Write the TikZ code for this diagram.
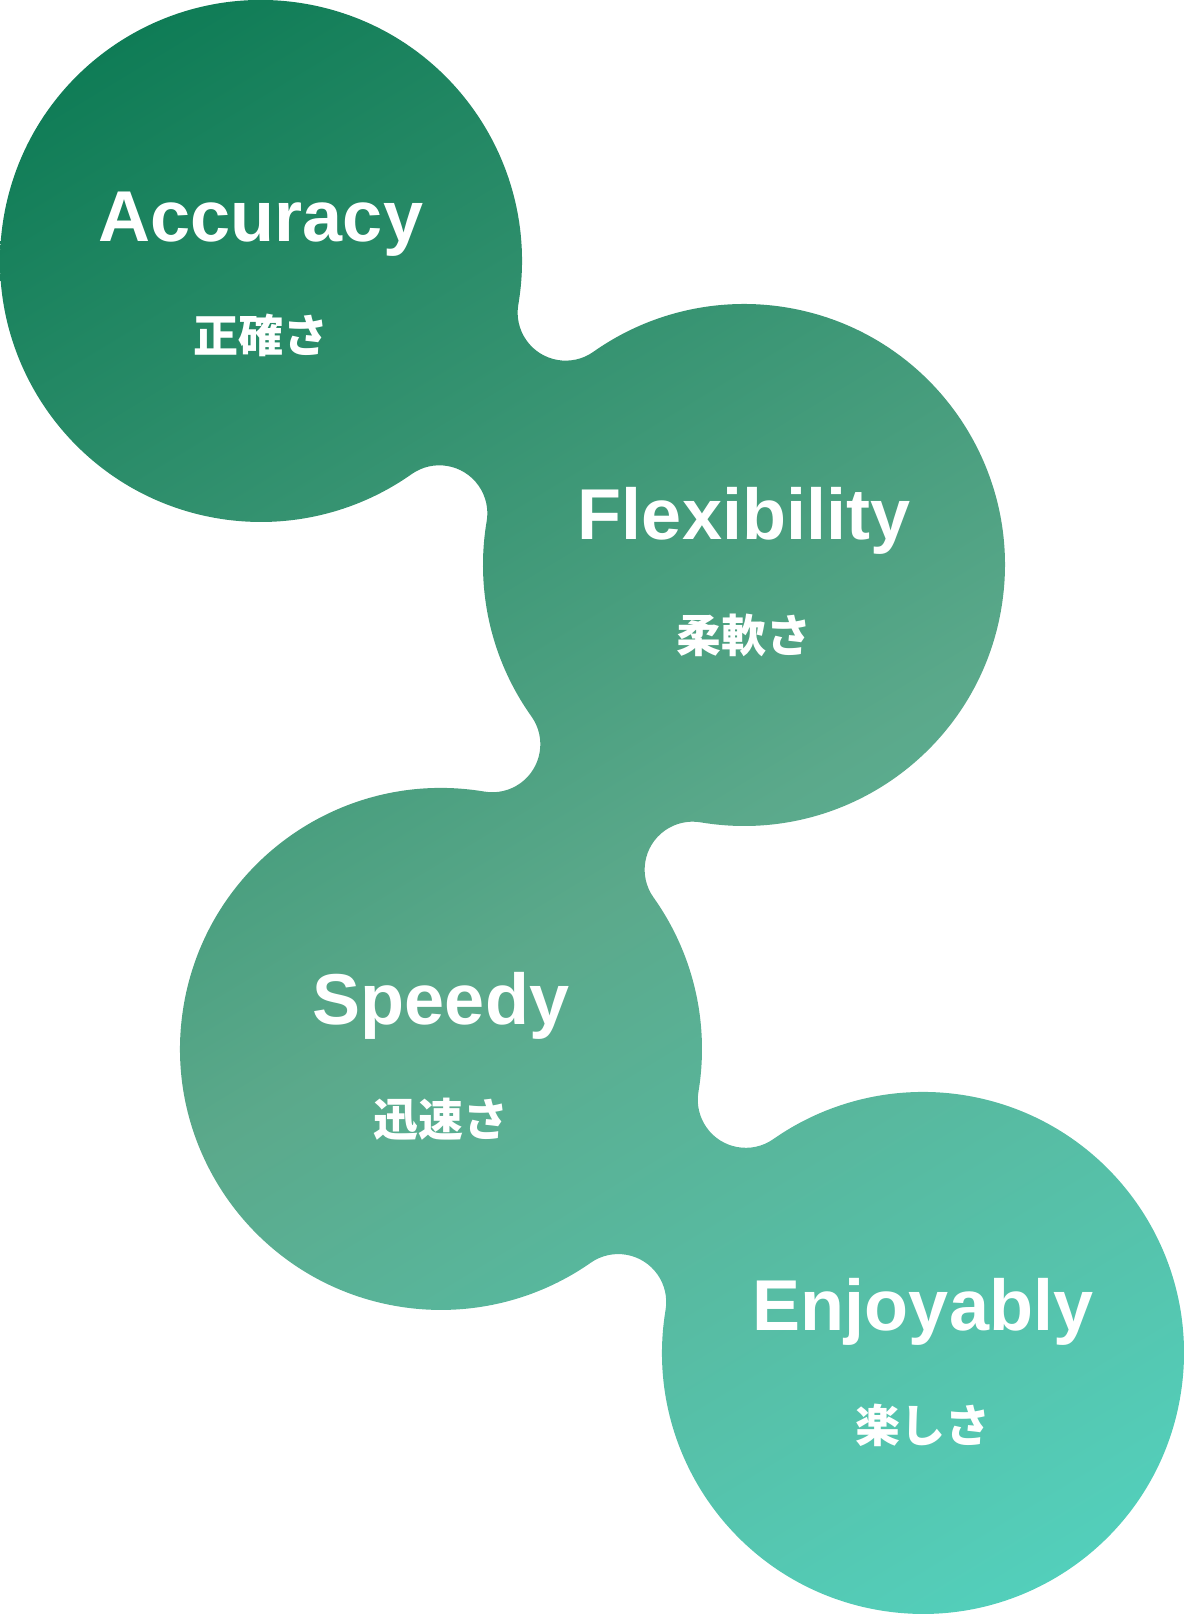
\documentclass[tikz,border=0pt]{standalone}
\usepackage{fontspec}
\setmainfont{Liberation Sans}
\newfontfamily\jpfont{Noto Sans CJK JP}
\usepackage{tikz}
\definecolor{flowstart}{HTML}{0F7C56}
\definecolor{flowmid}{HTML}{5BA98B}
\definecolor{flowend}{HTML}{53CFBB}
\pgfdeclareverticalshading{flowshade}{100bp}{color(0bp)=(flowend); color(25bp)=(flowend); color(47.5bp)=(flowmid); color(75bp)=(flowstart); color(100bp)=(flowstart)}

\begin{document}
\begin{tikzpicture}[x=1pt,y=1pt,
  wordlabel/.style={text=white,anchor=base,font=\fontsize{72}{80}\selectfont\bfseries},
  kanalabel/.style={text=white,anchor=base,font=\jpfont\fontsize{45}{50}\selectfont\bfseries}]
\useasboundingbox (0,0) rectangle (1184,1614);
% four linked circles (r=261) joined by concave fillets (r=48)
\begin{scope}
\clip (261,1353) ++(-9.626:261)
  arc[start angle=-9.626,end angle=305.252,radius=261]   % circle 1
  arc[start angle=125.252,end angle=-9.626,radius=48]
  arc[start angle=170.374,end angle=215.468,radius=261]  % circle 2, left
  arc[start angle=35.468,end angle=-99.564,radius=48]
  arc[start angle=80.436,end angle=304.997,radius=261]   % circle 3, left
  arc[start angle=124.997,end angle=-9.475,radius=48]
  arc[start angle=170.525,end angle=484.997,radius=261]  % circle 4
  arc[start angle=-55.003,end angle=-189.475,radius=48]
  arc[start angle=-9.475,end angle=35.468,radius=261]    % circle 3, right
  arc[start angle=215.468,end angle=80.436,radius=48]
  arc[start angle=-99.564,end angle=125.252,radius=261]  % circle 2, right
  arc[start angle=-54.748,end angle=-189.626,radius=48]
  -- cycle;
% diagonal gradient
\begin{scope}[transform canvas={rotate around={31.2:(592,807)}}]
\shade[shading=flowshade] (-108,-93) rectangle (1292,1707);
\end{scope}
\end{scope}
% labels
\node[wordlabel] (accuracy) at (261,1372) {Accuracy};
\node[kanalabel] (accuracyjp) at (261,1261) {正確さ};
\node[wordlabel] (flexibility) at (744,1074) {Flexibility};
\node[kanalabel] (flexibilityjp) at (744,961) {柔軟さ};
\node[wordlabel] (speedy) at (441,589) {Speedy};
\node[kanalabel] (speedyjp) at (441,477) {迅速さ};
\node[wordlabel] (enjoyably) at (923,283) {Enjoyably};
\node[kanalabel] (enjoyablyjp) at (923,171) {楽しさ};
\end{tikzpicture}
\end{document}
